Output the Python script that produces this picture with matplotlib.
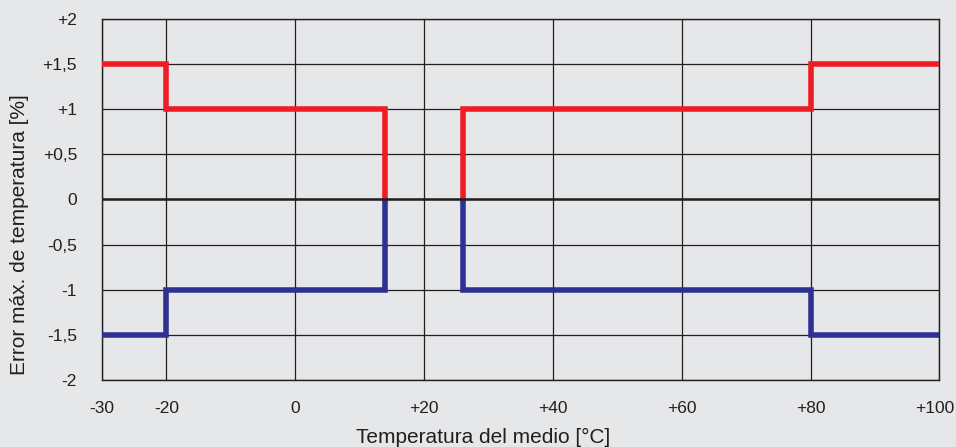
import matplotlib.pyplot as plt
import matplotlib.transforms as mtransforms

plt.rcParams['font.family'] = ['Liberation Sans', 'DejaVu Sans']

# step breakpoints (steps-post)
x_left = [-30, -20, 14, 14]
x_right = [26, 26, 80, 100]
red_left = [1.5, 1, 0, 0]
red_right = [0, 1, 1.5, 1.5]
blue_left = [-1.5, -1, 0, 0]
blue_right = [0, -1, -1.5, -1.5]

x_ticks = [-30, -20, 0, 20, 40, 60, 80, 100]
x_labels = ['-30', '-20', '0', '+20', '+40', '+60', '+80', '+100']
y_ticks = [-2, -1.5, -1, -0.5, 0, 0.5, 1, 1.5, 2]
y_labels = ['-2', '-1,5', '-1', '-0,5', '0', '+0,5', '+1', '+1,5', '+2']

bg = '#e6e7e9'
red = '#ee1c25'
blue = '#2e3192'
ink = '#231f20'

fig = plt.figure(figsize=(9.56, 4.47), dpi=100, facecolor=bg)
ax = fig.add_axes([0.1067, 0.150, 0.876, 0.8075])
ax.set_facecolor(bg)

for xs, ys, c in [(x_left, red_left, red), (x_right, red_right, red),
                  (x_left, blue_left, blue), (x_right, blue_right, blue)]:
    ax.plot(xs, ys, drawstyle='steps-post', color=c, lw=4, zorder=3,
            solid_joinstyle='miter', solid_capstyle='butt')
ax.axhline(0, color=ink, lw=1.8, zorder=4)

ax.set_xlim(-30, 100)
ax.set_ylim(-2, 2)
ax.set_xticks(x_ticks)
ax.set_xticklabels(x_labels)
ax.set_yticks(y_ticks)
ax.set_yticklabels(y_labels)
ax.tick_params(axis='both', length=0, labelsize=12.5, colors=ink)
ax.tick_params(axis='x', pad=15)
ax.tick_params(axis='y', pad=18)
ax.grid(True, color=ink, lw=0.9, zorder=1)
ax.set_axisbelow(True)
for s in ax.spines.values():
    s.set_color(ink)
    s.set_linewidth(1.0)

# nudge the last x label so it stays inside the figure
last = ax.get_xticklabels()[-1]
last.set_transform(last.get_transform() +
                   mtransforms.ScaledTranslation(-5 / 100, 0, fig.dpi_scale_trans))

fig.text(483 / 956, 1 - 443 / 447, 'Temperatura del medio [°C]', fontsize=15,
         color=ink, ha='center', va='baseline')
fig.text(20 / 956, 1 - 235 / 447, 'Error máx. de temperatura [%]', fontsize=15,
         color=ink, ha='center', va='center', rotation=90)

fig.savefig('out.png', dpi=100, facecolor=bg)
